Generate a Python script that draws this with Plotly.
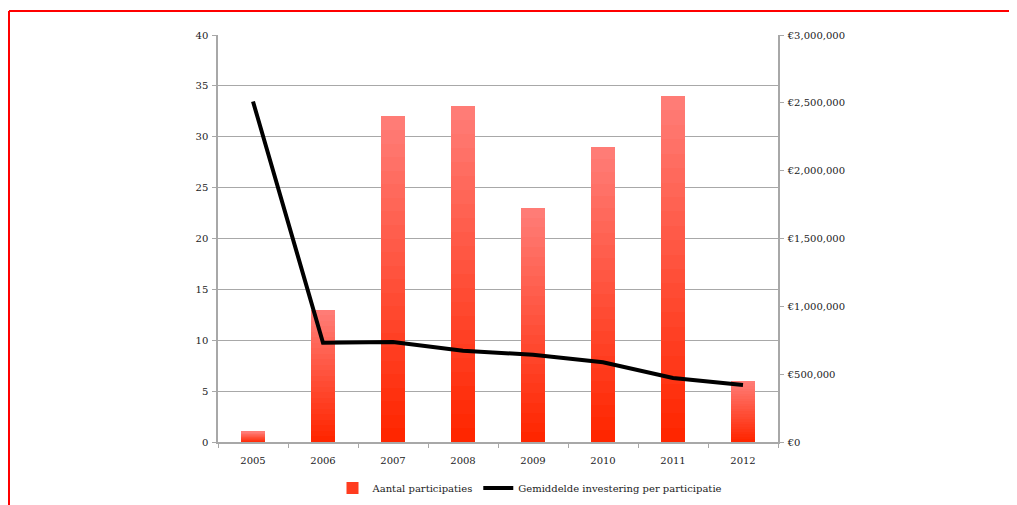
import plotly.graph_objects as go

years = ["2005", "2006", "2007", "2008", "2009", "2010", "2011", "2012"]
participaties = [1, 13, 32, 33, 23, 29, 34, 6]
investering = [2510000, 732000, 737000, 673000, 643000, 588000, 472000, 420000]

bar_name = "Aantal participaties"
line_name = "Gemiddelde investering per participatie"

FONT = "DejaVu Serif"
FS = 10
TXT = "#222222"
N_SEG = 24
top_rgb = (255, 124, 118)
bot_rgb = (255, 38, 0)

# figure is placed at (8, 8) in the page by the body margin
L, T, R, B = 210, 27, 247, 71
PW = 1017 - L - R
PH = 505 - T - B

fig = go.Figure()

# gradient bars: stack equal fractions of each value, dark at bottom -> light at top
for i in range(N_SEG):
    t = i / (N_SEG - 1)
    r = round(bot_rgb[0] + (top_rgb[0] - bot_rgb[0]) * t)
    g = round(bot_rgb[1] + (top_rgb[1] - bot_rgb[1]) * t)
    b = round(bot_rgb[2] + (top_rgb[2] - bot_rgb[2]) * t)
    fig.add_trace(go.Bar(
        x=years,
        y=[v / N_SEG for v in participaties],
        marker=dict(color=f"rgb({r},{g},{b})", line=dict(width=0)),
        name=bar_name,
        legendgroup="bars",
        showlegend=(i == N_SEG // 4),
        yaxis="y",
    ))

fig.add_trace(go.Scatter(
    x=years,
    y=investering,
    mode="lines",
    line=dict(color="black", width=4),
    name=line_name,
    yaxis="y2",
))

axis_common = dict(
    showline=True,
    linecolor="#a8a8a8",
    linewidth=1.5,
    ticks="outside",
    tickcolor="#a8a8a8",
    zeroline=False,
    tickfont=dict(family=FONT, size=FS, color=TXT),
)

fig.update_layout(
    width=1017,
    height=505,
    margin=dict(l=L, r=R, t=T, b=B, autoexpand=False),
    paper_bgcolor="white",
    plot_bgcolor="white",
    barmode="stack",
    bargap=0.657,
    font=dict(family=FONT, size=FS, color=TXT),
    xaxis=dict(
        type="category",
        tickson="boundaries",
        ticklen=4,
        showgrid=False,
        ticklabelstandoff=8,
        **axis_common,
    ),
    yaxis=dict(
        range=[0, 40],
        dtick=5,
        showgrid=True,
        gridcolor="#a8a8a8",
        gridwidth=1,
        ticklen=4,
        ticklabelstandoff=2,
        **axis_common,
    ),
    yaxis2=dict(
        overlaying="y",
        side="right",
        range=[0, 3000000],
        dtick=500000,
        tickprefix="€",
        tickformat=",d",
        showgrid=False,
        ticklen=4,
        ticklabelstandoff=2,
        **axis_common,
    ),
    legend=dict(
        orientation="h",
        x=(530 - 8 - L) / PW,
        xanchor="center",
        y=-46 / PH,
        yanchor="middle",
        font=dict(family=FONT, size=FS, color=TXT),
        traceorder="normal",
    ),
    shapes=[
        dict(type="line", xref="paper", yref="paper",
             x0=(1 - L) / PW, x1=(1040 - L) / PW,
             y0=(T + PH - 3) / PH, y1=(T + PH - 3) / PH,
             line=dict(color="#ff0000", width=2)),
        dict(type="line", xref="paper", yref="paper",
             x0=(1 - L) / PW, x1=(1 - L) / PW,
             y0=(T + PH - 3) / PH, y1=-(B + 20) / PH,
             line=dict(color="#ff0000", width=2)),
    ],
)

fig.write_html("out.html")
